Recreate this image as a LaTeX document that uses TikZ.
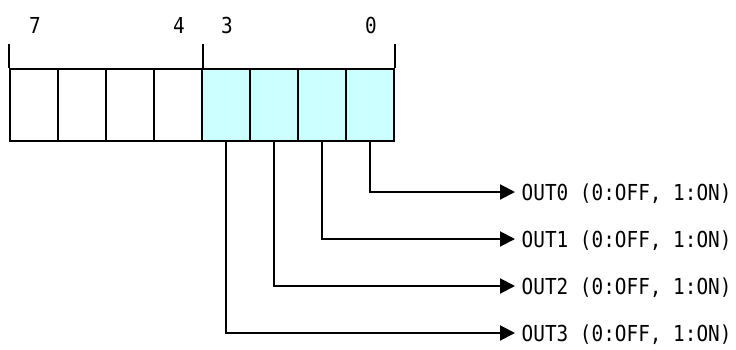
\documentclass[tikz,border=0pt]{standalone}
\usepackage{fontspec}
\usetikzlibrary{arrows.meta}
\newfontfamily\gothic[FakeStretch=0.88]{DejaVu Sans Mono}
\definecolor{cellcyan}{HTML}{CCFFFF}
\begin{document}
\begin{tikzpicture}[x=1pt,y=-1pt,
  cell/.style={draw,line width=2pt,minimum width=48pt,minimum height=72pt,inner sep=0pt},
  oncell/.style={cell,fill=cellcyan},
  bitlbl/.style={font=\gothic\fontsize{22}{24}\selectfont,inner sep=0pt,anchor=base},
  outlbl/.style={font=\gothic\fontsize{22}{24}\selectfont,inner sep=0pt,anchor=base west},
  tick/.style={line width=2pt},
  conn/.style={line width=2pt,-{Triangle[length=15pt,width=15pt]}}]
\useasboundingbox (0,0) rectangle (736,349);
% cells
\node[cell] (c7) at (34,105) {};
\node[cell] (c6) at (82,105) {};
\node[cell] (c5) at (130,105) {};
\node[cell] (c4) at (178,105) {};
\node[oncell] (c3) at (226,105) {};
\node[oncell] (c2) at (274,105) {};
\node[oncell] (c1) at (322,105) {};
\node[oncell] (c0) at (370,105) {};
% ticks
\draw[tick] (c7.north west) -- ++(0,-24);
\draw[tick] (c4.north east) -- ++(0,-24);
\draw[tick] (c0.north east) -- ++(0,-24);
% bit labels
\node[bitlbl] (b7) at (35,33) {7};
\node[bitlbl] (b4) at (179,33) {4};
\node[bitlbl] (b3) at (227,33) {3};
\node[bitlbl] (b0) at (371,33) {0};
% outputs
\coordinate (t0) at (515,192);
\coordinate (t1) at (515,239);
\coordinate (t2) at (515,286);
\coordinate (t3) at (515,333);
\node[outlbl] (o0) at (521.5,200) {OUT0 (0:OFF, 1:ON)};
\node[outlbl] (o1) at (521.5,247) {OUT1 (0:OFF, 1:ON)};
\node[outlbl] (o2) at (521.5,294) {OUT2 (0:OFF, 1:ON)};
\node[outlbl] (o3) at (521.5,341) {OUT3 (0:OFF, 1:ON)};
\draw[conn] (c0.south) |- (t0);
\draw[conn] (c1.south) |- (t1);
\draw[conn] (c2.south) |- (t2);
\draw[conn] (c3.south) |- (t3);
\end{tikzpicture}
\end{document}
